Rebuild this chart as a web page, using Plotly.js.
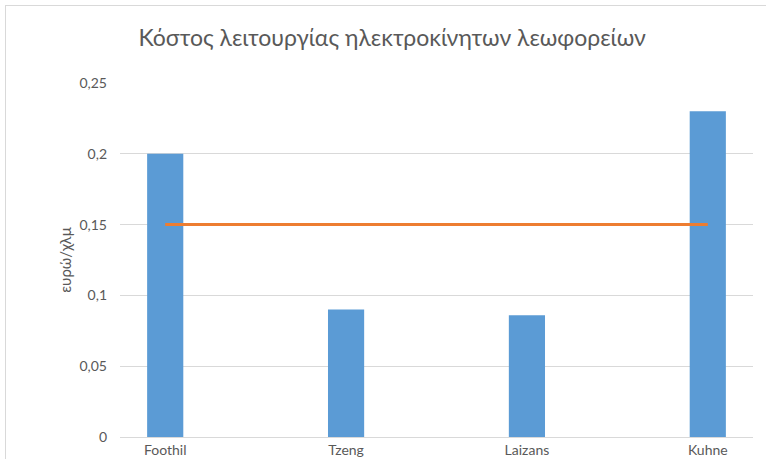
<!DOCTYPE html>
<html>
<head>
<meta charset="utf-8">
<script src="https://cdn.plot.ly/plotly-3.0.1.min.js"></script>
<style>
  html, body { margin: 0; padding: 0; background: #fff; }
  #wrap { position: relative; width: 766px; height: 459px; overflow: hidden; }
  #frame { position: absolute; left: 5px; top: 5px; width: 770px; height: 470px; border: 1px solid #D9D9D9; box-sizing: border-box; }
  #chart { position: absolute; left: 0; top: 0; width: 766px; height: 459px; }
</style>
</head>
<body>
<div id="wrap">
  <div id="frame"></div>
  <div id="chart"></div>
</div>
<script>
const categories = ["Foothil", "Tzeng", "Laizans", "Kuhne"];
const costValues = [0.20, 0.09, 0.086, 0.23];
const referenceValues = [0.15, 0.15, 0.15, 0.15];
const yTickVals = [0, 0.05, 0.1, 0.15, 0.2, 0.25];
const yTickText = ["0", "0,05", "0,1", "0,15", "0,2", "0,25"];

const fontFamily = "Lato, 'Noto Sans', sans-serif";
const textColor = "#595959";

const traces = [
  {
    type: "bar",
    x: categories,
    y: costValues,
    width: 0.2,
    marker: { color: "#5B9BD5", line: { width: 0 } },
    hoverinfo: "x+y"
  },
  {
    type: "scatter",
    mode: "lines",
    x: categories,
    y: referenceValues,
    line: { color: "#ED7D31", width: 3 },
    hoverinfo: "x+y"
  }
];

const layout = {
  width: 766,
  height: 459,
  paper_bgcolor: "rgba(0,0,0,0)",
  plot_bgcolor: "rgba(0,0,0,0)",
  showlegend: false,
  margin: { l: 120, r: 13, t: 83, b: 22, pad: 0 },
  font: { family: fontFamily, color: textColor, size: 14 },
  title: {
    text: "Κόστος λειτουργίας ηλεκτροκίνητων λεωφορείων",
    font: { family: fontFamily, size: 23, color: textColor },
    xref: "container", x: 0.512, xanchor: "center",
    yref: "container", y: 0.917, yanchor: "middle"
  },
  xaxis: {
    type: "category",
    range: [-0.25, 3.25],
    showgrid: false,
    showline: true,
    linecolor: "#D9D9D9",
    linewidth: 1,
    ticks: "",
    tickfont: { size: 14, color: textColor },
    ticklabelstandoff: 0,
    zeroline: false,
    fixedrange: true
  },
  yaxis: {
    range: [0, 0.25],
    tickvals: yTickVals,
    ticktext: yTickText,
    showgrid: true,
    gridcolor: "#D9D9D9",
    gridwidth: 1,
    zeroline: false,
    showline: false,
    ticks: "",
    ticklabelstandoff: 12,
    tickfont: { size: 14, color: textColor },
    title: {
      text: "ευρώ/χλμ",
      font: { size: 15, color: textColor },
      standoff: 4
    },
    fixedrange: true
  }
};

Plotly.newPlot("chart", traces, layout, { displayModeBar: false, staticPlot: true });
</script>
</body>
</html>
